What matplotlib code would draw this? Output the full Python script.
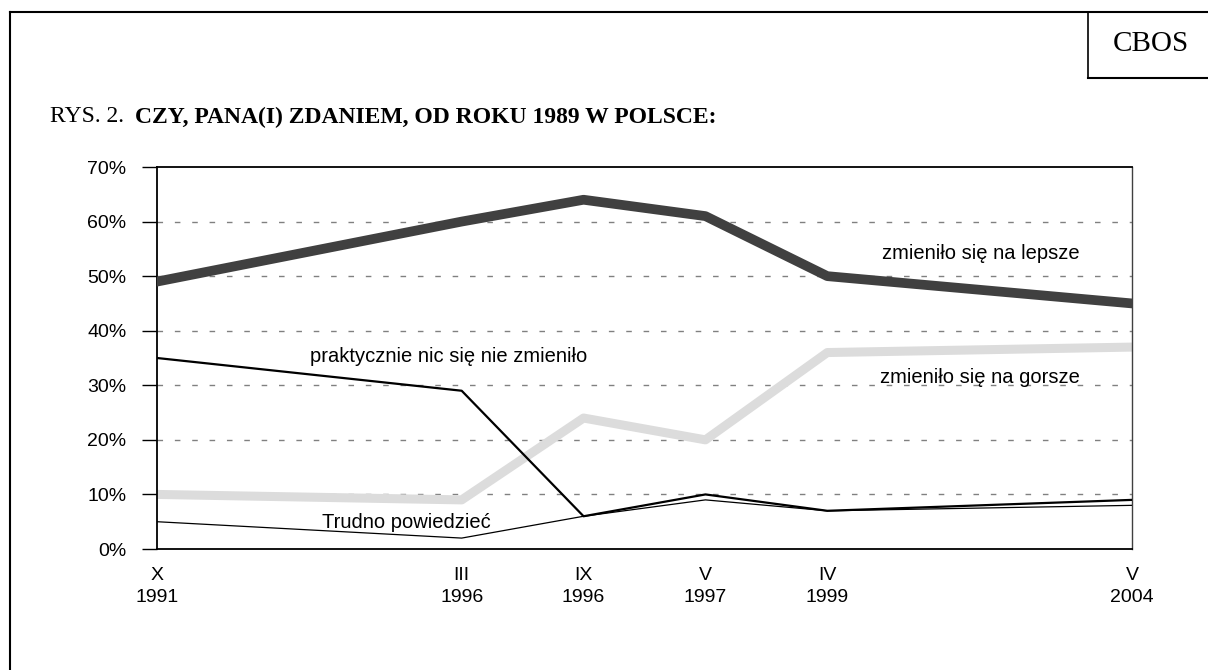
import matplotlib
matplotlib.use('Agg')
import matplotlib.pyplot as plt
from matplotlib.lines import Line2D

# dane z wykresu CBOS
okresy = ['X\n1991', 'III\n1996', 'IX\n1996', 'V\n1997', 'IV\n1999', 'V\n2004']
x = [0, 2.5, 3.5, 4.5, 5.5, 8]
lepsze = [49, 60, 64, 61, 50, 45]
gorsze = [10, 9, 24, 20, 36, 37]
nic = [35, 29, 6, 10, 7, 9]
trudno = [5, 2, 6, 9, 7, 8]

plt.rcParams['font.family'] = ['Liberation Sans', 'DejaVu Sans']

W, H = 1208, 670
fig = plt.figure(figsize=(W / 100, H / 100), dpi=100)
ax = fig.add_axes([157 / W, 1 - 549 / H, (1132 - 157) / W, (549 - 167) / H])

# linie
ax.plot(x, lepsze, color='#404040', lw=7, solid_capstyle='round', solid_joinstyle='round', zorder=3)
ax.plot(x, gorsze, color='#dcdcdc', lw=6.5, solid_capstyle='round', solid_joinstyle='round', zorder=2)
ax.plot(x, trudno, color='black', lw=0.9, zorder=4)
ax.plot(x, nic, color='black', lw=1.6, zorder=5)

ax.set_xlim(0, 8)
ax.set_ylim(0, 70)
ax.set_yticks(range(0, 71, 10))
ax.set_yticklabels([f'{v}%' for v in range(0, 71, 10)], fontsize=14)
ax.set_xticks(x)
ax.set_xticklabels(okresy, fontsize=14, linespacing=1.4)
ax.tick_params(axis='x', length=0, pad=13)
ax.tick_params(axis='y', length=11, direction='out', width=1, pad=11)

for v in range(10, 61, 10):
    ax.axhline(v, color='#808080', lw=1, ls=(0, (4, 8.5)), zorder=1)

for s in ['left', 'bottom', 'top']:
    ax.spines[s].set_linewidth(1.3)
ax.spines['right'].set_color('#404040')
ax.spines['right'].set_linewidth(1)

# podpisy serii
ax.text(6.76, 54.2, 'zmieniło się na lepsze', fontsize=14.5, ha='center', va='center')
ax.text(6.75, 31.5, 'zmieniło się na gorsze', fontsize=14.5, ha='center', va='center')
ax.text(2.39, 35.2, 'praktycznie nic się nie zmieniło', fontsize=14.5, ha='center', va='center')
ax.text(2.05, 4.8, 'Trudno powiedzieć', fontsize=14.5, ha='center', va='center')

# tytuł
fig.text(50 / W, 1 - 117 / H, 'RYS. 2.', fontsize=17, family='Liberation Serif', va='center')
fig.text(135 / W, 1 - 117 / H, 'CZY, PANA(I) ZDANIEM, OD ROKU 1989 W POLSCE:', fontsize=17,
         family='Liberation Serif', weight='bold', va='center')

# ramka
fig.add_artist(Line2D([10 / W, 1], [1 - 12 / H, 1 - 12 / H], color='black', lw=1.5))
fig.add_artist(Line2D([10 / W, 10 / W], [0, 1 - 12 / H], color='black', lw=1.5))
fig.add_artist(Line2D([1088 / W, 1088 / W], [1 - 78 / H, 1 - 12 / H], color='black', lw=1.2))
fig.add_artist(Line2D([1088 / W, 1], [1 - 78 / H, 1 - 78 / H], color='black', lw=1.5))
fig.text(1151 / W, 1 - 44 / H, 'CBOS', fontsize=21, family='Liberation Serif', ha='center', va='center')

fig.savefig('out.png', dpi=100)
